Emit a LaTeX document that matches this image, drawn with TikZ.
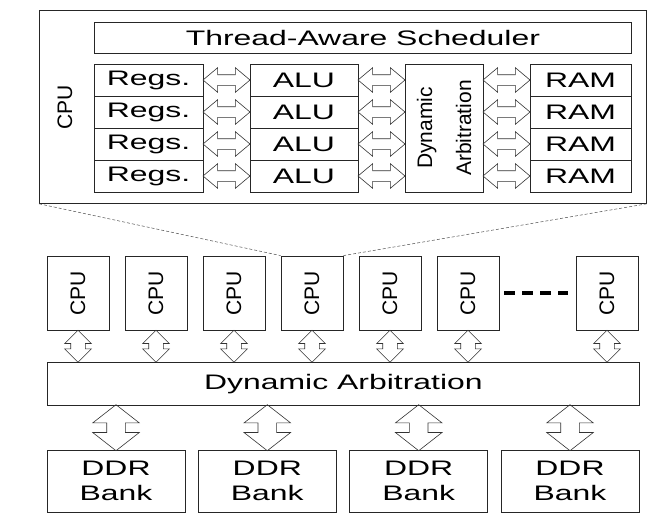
\documentclass[tikz,border=0pt]{standalone}
\usepackage{fontspec}
\setmainfont{Liberation Sans}
\usepackage{graphicx}
\usetikzlibrary{positioning}
\usetikzlibrary{calc}
\usetikzlibrary{shapes.arrows}

\newcommand{\diagfont}{\fontsize{21}{25}\selectfont}
\newcommand{\wtxt}[1]{\scalebox{1.52}[1]{#1}}

\begin{document}
\begin{tikzpicture}[x=1pt,y=1pt,
	box/.style={draw=black!85,line width=0.8pt,inner sep=0pt,font=\diagfont,align=center},
	vtext/.style={rotate=90,inner sep=0pt,font=\diagfont,align=center},
	harrow/.style={double arrow,draw=black!80,line width=0.6pt,inner sep=5pt,double arrow head extend=7pt,double arrow tip angle=80,minimum height=47pt},
	varrow/.style={double arrow,shape border rotate=90,draw=black!80,line width=0.6pt,inner sep=7pt,double arrow head extend=6pt,minimum height=32pt},
	barrow/.style={double arrow,shape border rotate=90,draw=black!80,line width=0.6pt,inner sep=9pt,double arrow head extend=14pt,double arrow tip angle=104,minimum height=46pt},
	zoomline/.style={draw=black!70,line width=0.5pt,dash pattern=on 3pt off 2pt},
	dotsline/.style={line width=3.5pt,dash pattern=on 11pt off 7pt}]
	\useasboundingbox (0,0) rectangle (655,-520);
	%% zoomed cpu
	\node[box,minimum width=607pt,minimum height=193pt,anchor=north west] (core) at (39,-10) {};
	\node[vtext] (corelbl) at (65,-107) {CPU};
	\node[box,minimum width=537pt,minimum height=31pt,anchor=north west] (sched) at (94,-22) {\wtxt{Thread-Aware Scheduler}};
	\node[box,minimum width=78pt,minimum height=128pt] (darb) at (444,-128) {};
	\node[vtext] at (darb.center) {Dynamic\\[14pt]Arbitration};
	\foreach \i in {1,...,4}{
		\node[box,minimum width=109pt,minimum height=32pt] (regs\i) at (148.5,-48-32*\i) {\wtxt{Regs.}};
		\node[box,minimum width=108pt,minimum height=32pt] (alu\i) at (304,-48-32*\i) {\wtxt{ALU}};
		\node[box,minimum width=101pt,minimum height=32pt] (ram\i) at (580.5,-48-32*\i) {\wtxt{RAM}};
		% arrows in each lane
		\node[harrow] (ra\i) at ($(regs\i.east)!0.5!(alu\i.west)$) {};
		\node[harrow] (ad\i) at ($(alu\i.east)!0.5!(darb.west |- alu\i.east)$) {};
		\node[harrow] (dr\i) at ($(darb.east |- ram\i.west)!0.5!(ram\i.west)$) {};
	}
	%% cpu row
	\foreach \i in {1,...,6}{
		\node[box,minimum width=62pt,minimum height=74pt] (cpu\i) at ({78+78*(\i-1)},-293) {};
		\node[vtext] at (cpu\i.center) {CPU};
	}
	\node[box,minimum width=62pt,minimum height=74pt] (cpun) at (607,-293) {};
	\node[vtext] at (cpun.center) {CPU};
	\draw[dotsline,shorten <=5pt,shorten >=8pt] (cpu6.east) -- (cpun.west);
	\draw[zoomline] (core.south west) -- (cpu4.north west);
	\draw[zoomline] (core.south east) -- (cpu4.north east);
	\node[box,minimum width=592pt,minimum height=43pt,anchor=north west] (bar) at (47,-362) {\wtxt{Dynamic Arbitration}};
	\foreach \c in {cpu1,cpu2,cpu3,cpu4,cpu5,cpu6,cpun}
		\node[varrow] at ($(\c.south)!0.5!(bar.north -| \c.south)$) {};
	%% ddr banks
	\foreach \i/\x in {1/116,2/267.3,3/418.7,4/570}{
		\node[box,minimum width=138pt,minimum height=62pt] (ddr\i) at (\x,-481) {\wtxt{DDR}\\\wtxt{Bank}};
		\node[barrow] at ($(ddr\i.north)!0.5!(bar.south -| ddr\i.north)$) {};
	}
\end{tikzpicture}
\end{document}
